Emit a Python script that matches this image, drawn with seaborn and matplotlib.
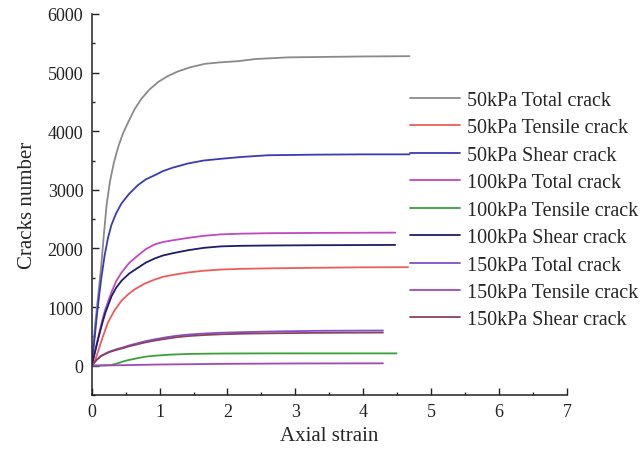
import numpy as np
import pandas as pd
import seaborn as sns
import matplotlib.pyplot as plt
from matplotlib.ticker import MultipleLocator

# values
labels = ['50kPa Total crack', '50kPa Tensile crack', '50kPa Shear crack',
          '100kPa Total crack', '100kPa Tensile crack', '100kPa Shear crack',
          '150kPa Total crack', '150kPa Tensile crack', '150kPa Shear crack']

x_50_total = [0, 0.05, 0.1, 0.14, 0.18, 0.22, 0.27, 0.33, 0.39, 0.46, 0.54, 0.63, 0.73, 0.85, 0.98,
              1.12, 1.27, 1.45, 1.67, 1.9, 2.16, 2.4, 2.9, 3.5, 4.0, 4.68]
y_50_total = [0, 700, 1250, 1700, 2250, 2750, 3150, 3480, 3730, 3960, 4160, 4370, 4550, 4710, 4840,
              4940, 5020, 5090, 5150, 5175, 5195, 5230, 5260, 5268, 5275, 5280]

x_50_tensile = [0, 0.04, 0.09, 0.16, 0.24, 0.34, 0.44, 0.53, 0.63, 0.78, 0.93, 1.05, 1.2, 1.42,
                1.65, 1.9, 2.2, 2.6, 3.3, 4.0, 4.66]
y_50_tensile = [0, 60, 230, 480, 740, 950, 1110, 1210, 1300, 1400, 1470, 1515, 1550, 1590,
                1620, 1640, 1652, 1660, 1670, 1678, 1680]

x_50_shear = [0, 0.05, 0.08, 0.11, 0.14, 0.19, 0.24, 0.29, 0.36, 0.44, 0.55, 0.68, 0.8, 0.93,
              1.05, 1.2, 1.42, 1.65, 1.91, 2.2, 2.6, 3.3, 4.0, 4.68]
y_50_shear = [0, 550, 900, 1200, 1480, 1880, 2180, 2400, 2600, 2770, 2930, 3080, 3180, 3250,
              3320, 3380, 3450, 3500, 3530, 3560, 3590, 3600, 3605, 3605]

x_100_total = [0, 0.05, 0.1, 0.15, 0.2, 0.29, 0.36, 0.44, 0.55, 0.68, 0.8, 0.93, 1.05, 1.2,
               1.42, 1.65, 1.9, 2.2, 2.6, 3.3, 4.0, 4.47]
y_100_total = [0, 250, 500, 750, 960, 1250, 1440, 1590, 1750, 1880, 1990, 2070, 2110, 2140,
               2180, 2215, 2240, 2252, 2260, 2265, 2268, 2270]

x_100_tensile = [0, 0.28, 0.38, 0.5, 0.68, 0.8, 0.93, 1.15, 1.42, 1.7, 2.0, 2.6, 3.5, 4.49]
y_100_tensile = [0, 10, 40, 85, 130, 155, 170, 188, 200, 205, 208, 210, 210, 210]

x_100_shear = [0, 0.05, 0.1, 0.15, 0.2, 0.29, 0.36, 0.44, 0.55, 0.68, 0.8, 0.93, 1.05, 1.2,
               1.42, 1.65, 1.9, 2.2, 2.6, 3.3, 4.0, 4.47]
y_100_shear = [0, 240, 480, 700, 900, 1180, 1330, 1450, 1570, 1670, 1760, 1830, 1880, 1920,
               1970, 2010, 2035, 2045, 2050, 2055, 2058, 2060]

x_150_total = [0, 0.07, 0.14, 0.25, 0.35, 0.44, 0.55, 0.7, 0.8, 0.93, 1.1, 1.25, 1.42, 1.65,
               1.9, 2.2, 2.6, 3.3, 4.29]
y_150_total = [0, 100, 170, 235, 275, 305, 345, 390, 420, 450, 485, 510, 530, 548,
               562, 572, 582, 595, 600]

x_150_tensile = [0, 0.5, 1.0, 2.0, 3.0, 4.29]
y_150_tensile = [0, 10, 20, 32, 38, 40]

x_150_shear = [0, 0.07, 0.14, 0.25, 0.35, 0.44, 0.55, 0.7, 0.8, 0.93, 1.1, 1.25, 1.42, 1.65,
               1.9, 2.2, 2.6, 3.3, 4.29]
y_150_shear = [0, 95, 165, 228, 265, 292, 330, 372, 400, 428, 460, 485, 505, 522,
               535, 545, 552, 560, 565]

colors = ['#8a8a8a', '#f05a5a', '#3a3ab8',
          '#c048c0', '#3aa03a', '#1c1c6a',
          '#8050c8', '#a048b8', '#904060']

xs = [x_50_total, x_50_tensile, x_50_shear, x_100_total, x_100_tensile,
      x_100_shear, x_150_total, x_150_tensile, x_150_shear]
ys = [y_50_total, y_50_tensile, y_50_shear, y_100_total, y_100_tensile,
      y_100_shear, y_150_total, y_150_tensile, y_150_shear]

frames = []
for lab, x, y in zip(labels, xs, ys):
    frames.append(pd.DataFrame({'strain': x, 'cracks': y, 'series': lab}))
df = pd.concat(frames, ignore_index=True)

sns.set_style('ticks')
plt.rcParams['font.family'] = ['Liberation Serif', 'DejaVu Serif']

fig = plt.figure(figsize=(6.44, 4.52), dpi=100)
ax = fig.add_axes([0.1424, 0.1239, 0.738, 0.843])

sns.lineplot(data=df, x='strain', y='cracks', hue='series', hue_order=labels,
             palette=dict(zip(labels, colors)), errorbar=None, sort=False,
             linewidth=1.3, ax=ax)

ax.set_xlim(0, 7)
ax.set_ylim(-500, 6000)
ax.xaxis.set_major_locator(MultipleLocator(1))
ax.xaxis.set_minor_locator(MultipleLocator(0.5))
ax.yaxis.set_major_locator(MultipleLocator(1000))
ax.yaxis.set_minor_locator(MultipleLocator(500))
ax.tick_params(which='major', direction='in', length=5, width=1, labelsize=13, pad=6, colors='#222222')
ax.tick_params(which='minor', direction='in', length=2.5, width=1, colors='#222222')
for side in ['top', 'right']:
    ax.spines[side].set_visible(False)
for side in ['left', 'bottom']:
    ax.spines[side].set_linewidth(1.1)
    ax.spines[side].set_color('#222222')

ax.set_xlabel('Axial strain', fontsize=15, labelpad=4)
ax.set_ylabel('Cracks number', fontsize=15, labelpad=8)

ax.legend(loc='upper left', bbox_to_anchor=(0.637, 0.797), bbox_transform=fig.transFigure,
          frameon=False, fontsize=14.5, handlelength=2.48, handletextpad=0.35,
          labelspacing=0.415, borderpad=0, borderaxespad=0)

fig.savefig('out.png', dpi=100)
